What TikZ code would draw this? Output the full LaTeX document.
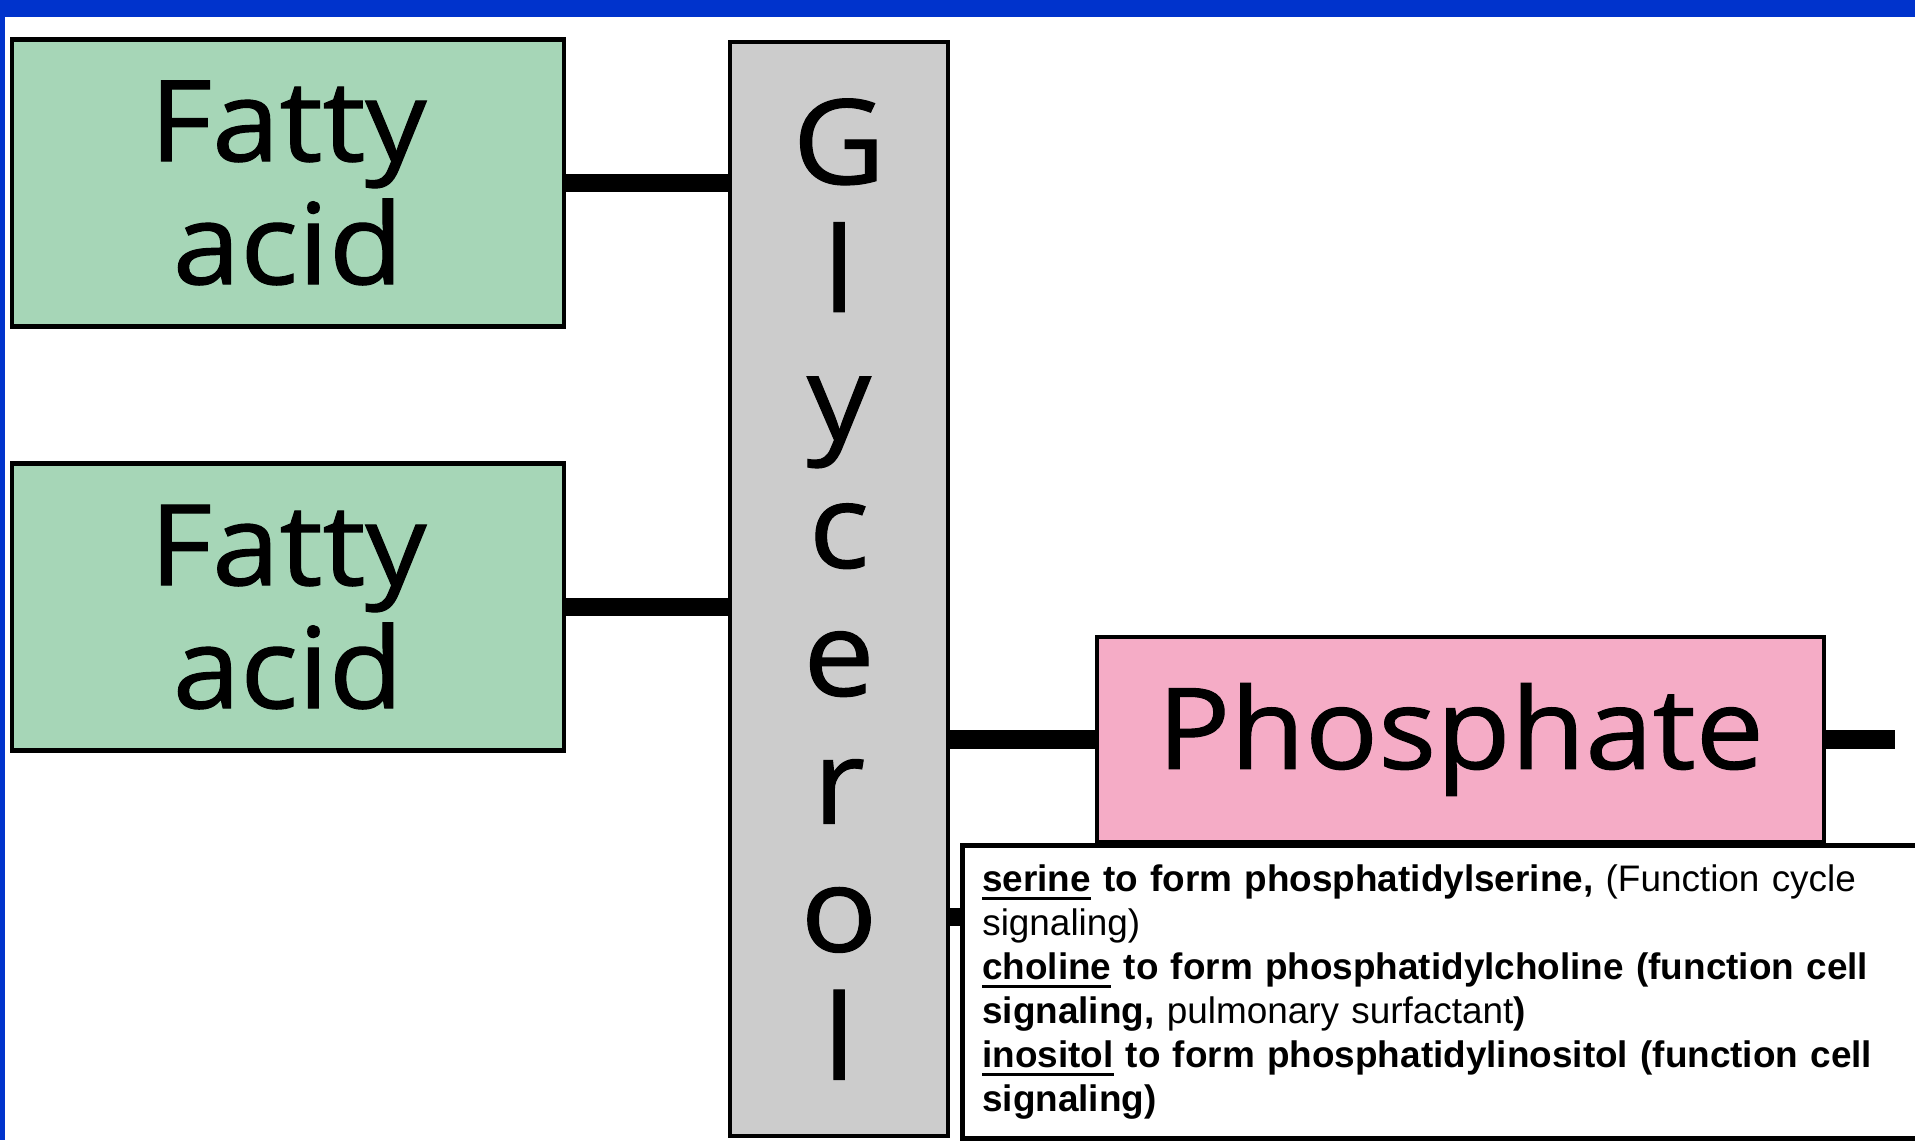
\documentclass[tikz,border=0pt]{standalone}
\usepackage{fontspec}
\setmainfont{Liberation Sans}
\newfontfamily\boxfont[FakeStretch=1.08, FakeBold=1]{Open Sans}
\usetikzlibrary{positioning}
\definecolor{slideblue}{RGB}{0,51,204}
\definecolor{acidgreen}{RGB}{166,214,183}
\definecolor{glygray}{RGB}{204,204,204}
\definecolor{phospink}{RGB}{245,172,198}
\newcommand\acidwidth{5.52cm}
\newcommand\acidheight{2.87cm}
\newcommand\acidspacing{4.24cm}
\newcommand\uword[1]{\setbox0\hbox{#1}\rlap{\rule[-2.4pt]{\wd0}{0.85pt}}\box0\relax}
\tikzstyle{acid} = [rectangle, minimum width=\acidwidth, minimum height=\acidheight, align=center, draw=black, fill=acidgreen, line width=1.4pt, font=\boxfont\fontsize{32}{35}\selectfont]
\tikzstyle{backbone} = [rectangle, minimum width=2.18cm, minimum height=10.94cm, align=center, draw=black, fill=glygray, line width=1.4pt, font=\boxfont\fontsize{33.5}{36.4}\selectfont]
\tikzstyle{head} = [rectangle, minimum width=7.27cm, minimum height=2.05cm, align=center, draw=black, fill=phospink, line width=1.4pt, font=\boxfont\fontsize{32}{35}\selectfont]
\tikzstyle{note} = [rectangle, anchor=north west, text width=9.6cm, minimum height=2.93cm, inner xsep=2mm, align=left, draw=black, fill=white, line width=1.3pt, font=\fontsize{10.5}{12.5}\selectfont]
\tikzstyle{bond} = [line width=5.2pt]

\begin{document}
\begin{tikzpicture}[node distance=\acidspacing]

    \useasboundingbox (0,0) rectangle (19.15,-11.40);
    \clip (0,0) rectangle (19.15,-11.40);
    \fill [slideblue] (0,0) rectangle (19.15,-11.40);
    \fill [white] (0.05,-0.17) rectangle (19.15,-11.40);

    \node (acid1) [acid] at (2.88,-1.83) {Fatty\\acid};
    \node (acid2) [acid, below of=acid1] {Fatty\\acid};
    \node (glycerol) [backbone] at (8.39,-5.89) {G\\l\\y\\c\\e\\r\\o\\l};
    \node (phosphate) [head] at (14.605,-7.395) {Phosphate};
    \coordinate (tail) at (18.95,-7.395);

    \draw [bond] (acid1.east) -- (acid1.east -| glycerol.west);
    \draw [bond] (acid2.east) -- (acid2.east -| glycerol.west);
    \draw [bond] (phosphate.west -| glycerol.east) -- (phosphate.west);
    \draw [bond] (phosphate.east) -- (tail);

    \node (info) [note] at (9.60,-8.43) {\textbf{\uword{serine} to form phosphatidylserine,} (Function cycle\\
        signaling)\\
        \textbf{\uword{choline} to form phosphatidylcholine (function cell}\\
        \textbf{signaling,} pulmonary surfactant\textbf{)}\\
        \textbf{\uword{inositol} to form phosphatidylinositol (function cell}\\
        \textbf{signaling)}};
    \draw [bond] ([yshift=7.45mm]info.west) -- ([yshift=7.45mm]info.west -| glycerol.east);

\end{tikzpicture}
\end{document}
